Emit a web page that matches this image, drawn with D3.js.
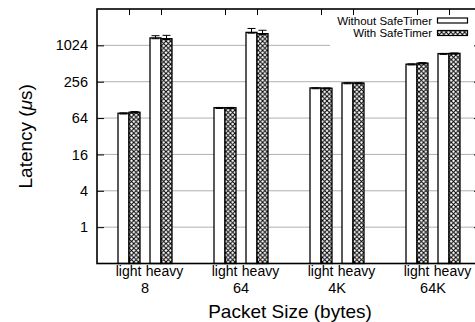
<!DOCTYPE html>
<html>
<head>
<meta charset="utf-8">
<script src="https://cdn.jsdelivr.net/npm/d3@7"></script>
<style>
  body { margin: 0; background: #fff; }
  svg text { font-family: "Liberation Sans", Arial, Helvetica, sans-serif; fill: #000; }
</style>
</head>
<body>
<svg id="chart" width="475" height="322"></svg>
<script>
  // packet sizes and load levels
  var groups = ["8", "64", "4K", "64K"];
  var loads = ["light", "heavy"];
  var series = ["Without SafeTimer", "With SafeTimer"];

  // latency in microseconds, order: 8 light, 8 heavy, 64 light, 64 heavy, ...
  var withoutVals = [77, 1360, 95, 1680, 202, 244, 500, 748];
  var withVals    = [80, 1320, 95, 1600, 200, 244, 520, 755];
  var withoutErr  = [78, 1480, 96, 1950, 203, 246, 505, 752];
  var withErr     = [82, 1500, 96, 1820, 202, 246, 530, 765];

  var yTicks = [1, 4, 16, 64, 256, 1024];

  var svg = d3.select("#chart");
  var width = +svg.attr("width");
  var height = +svg.attr("height");
  var margin = { top: 9, right: -6, bottom: 58.5, left: 97 };
  var innerW = width - margin.left - margin.right;
  var innerH = height - margin.top - margin.bottom;

  var defs = svg.append("defs");
  var pat = defs.append("pattern")
    .attr("id", "xhatch")
    .attr("patternUnits", "userSpaceOnUse")
    .attr("width", 4.6).attr("height", 4.6);
  pat.append("rect").attr("width", 4.6).attr("height", 4.6).attr("fill", "#fff");
  pat.append("path")
    .attr("d", "M0,0L4.6,4.6M4.6,0L0,4.6")
    .attr("stroke", "#000").attr("stroke-width", 1);

  var g = svg.append("g")
    .attr("transform", "translate(" + margin.left + "," + margin.top + ")");

  // position index: group i, load j -> 3i + j
  var xScale = d3.scaleLinear().domain([-1, 11]).range([0, innerW]);
  var yScale = d3.scaleLog().base(2).domain([0.25, 4096]).range([innerH, 0]);

  var rows = [];
  groups.forEach(function (grp, i) {
    loads.forEach(function (ld, j) {
      var k = i * 2 + j;
      rows.push({ group: grp, load: ld, pos: i * 3 + j,
        vals: [withoutVals[k], withVals[k]], errs: [withoutErr[k], withErr[k]] });
    });
  });

  // grid
  g.selectAll("line.grid").data(yTicks).enter().append("line")
    .attr("class", "grid")
    .attr("x1", 0).attr("x2", innerW)
    .attr("y1", function (d) { return yScale(d); })
    .attr("y2", function (d) { return yScale(d); })
    .attr("stroke", "#b0b0b0").attr("stroke-width", 1);

  // legend background (opaque key)
  g.append("rect")
    .attr("x", 330 - margin.left).attr("y", 0)
    .attr("width", innerW - (330 - margin.left)).attr("height", 37)
    .attr("fill", "#fff");

  var barW = 11;
  var fills = ["#fff", "url(#xhatch)"];

  var bars = g.selectAll("g.bar").data(rows).enter().append("g").attr("class", "bar");
  series.forEach(function (s, si) {
    bars.append("rect")
      .attr("x", function (d) { return xScale(d.pos) - barW + si * barW; })
      .attr("width", barW)
      .attr("y", function (d) { return yScale(d.vals[si]); })
      .attr("height", function (d) { return innerH - yScale(d.vals[si]); })
      .attr("fill", fills[si])
      .attr("stroke", "#000").attr("stroke-width", 1.3);
    // error bars (upper part)
    bars.append("path")
      .attr("d", function (d) {
        var cx = xScale(d.pos) - barW / 2 + si * barW;
        var y0 = yScale(d.vals[si] * 0.97), y1 = yScale(d.errs[si]);
        return "M" + cx + "," + y0 + "V" + y1 +
          "M" + (cx - 4) + "," + y1 + "H" + (cx + 4) +
          "M" + (cx - 4) + "," + y0 + "H" + (cx + 4);
      })
      .attr("fill", "none").attr("stroke", "#000").attr("stroke-width", 1);
  });

  // axes: left/right with inward ticks
  var yAxisL = d3.axisRight(yScale).tickValues(yTicks).tickSize(7).tickFormat("");
  g.append("g").call(yAxisL).call(function (a) { a.select(".domain").remove(); });
  var yAxisR = d3.axisLeft(yScale).tickValues(yTicks).tickSize(7).tickFormat("");
  g.append("g").attr("transform", "translate(" + innerW + ",0)")
    .call(yAxisR).call(function (a) { a.select(".domain").remove(); });

  var xTickPos = rows.map(function (d) { return d.pos; });
  var xAxisT = d3.axisBottom(xScale).tickValues(xTickPos).tickSize(6).tickFormat("");
  g.append("g").call(xAxisT).call(function (a) { a.select(".domain").remove(); });
  var xAxisB = d3.axisTop(xScale).tickValues(xTickPos).tickSize(6).tickFormat("");
  g.append("g").attr("transform", "translate(0," + innerH + ")")
    .call(xAxisB).call(function (a) { a.select(".domain").remove(); });
  g.selectAll(".tick line").attr("stroke", "#000").attr("stroke-width", 1);

  // border
  g.append("rect")
    .attr("x", 0).attr("y", 0).attr("width", innerW).attr("height", innerH)
    .attr("fill", "none").attr("stroke", "#000").attr("stroke-width", 1.6);

  // y tick labels
  g.selectAll("text.ylab").data(yTicks).enter().append("text")
    .attr("class", "ylab")
    .attr("x", -9).attr("y", function (d) { return yScale(d); })
    .attr("dy", "0.35em")
    .attr("text-anchor", "end")
    .style("font-size", "14.5px")
    .text(function (d) { return d; });

  // x tick labels
  g.selectAll("text.xlab").data(rows).enter().append("text")
    .attr("class", "xlab")
    .attr("x", function (d) { return xScale(d.pos) + (d.load === "heavy" ? 3.5 : -0.5); })
    .attr("y", innerH + 12)
    .attr("text-anchor", "middle")
    .style("font-size", "14px")
    .text(function (d) { return d.load; });

  g.selectAll("text.glab").data(groups).enter().append("text")
    .attr("class", "glab")
    .attr("x", function (d, i) { return xScale(i * 3 + 0.5); })
    .attr("y", innerH + 29)
    .attr("text-anchor", "middle")
    .style("font-size", "14.5px")
    .text(function (d) { return d; });

  // axis titles
  svg.append("text")
    .attr("x", 290).attr("y", 317.5)
    .attr("text-anchor", "middle")
    .style("font-size", "19px")
    .text("Packet Size (bytes)");

  var yt = svg.append("text")
    .attr("transform", "translate(31.5," + (margin.top + innerH / 2) + ") rotate(-90)")
    .attr("text-anchor", "middle")
    .style("font-size", "19px");
  yt.append("tspan").text("Latency (");
  yt.append("tspan").style("font-style", "italic").text("\u03bc");
  yt.append("tspan").text("s)");

  // legend
  var leg = svg.append("g");
  series.forEach(function (s, i) {
    var y = 20.5 + i * 12.5;
    leg.append("text")
      .attr("x", 432).attr("y", y).attr("dy", "0.35em")
      .attr("text-anchor", "end")
      .style("font-size", "11.5px")
      .text(s);
    leg.append("rect")
      .attr("x", 437.5).attr("y", y - 2.5).attr("width", 30).attr("height", 5)
      .attr("fill", fills[i]).attr("stroke", "#000").attr("stroke-width", 1.2);
  });
</script>
</body>
</html>
